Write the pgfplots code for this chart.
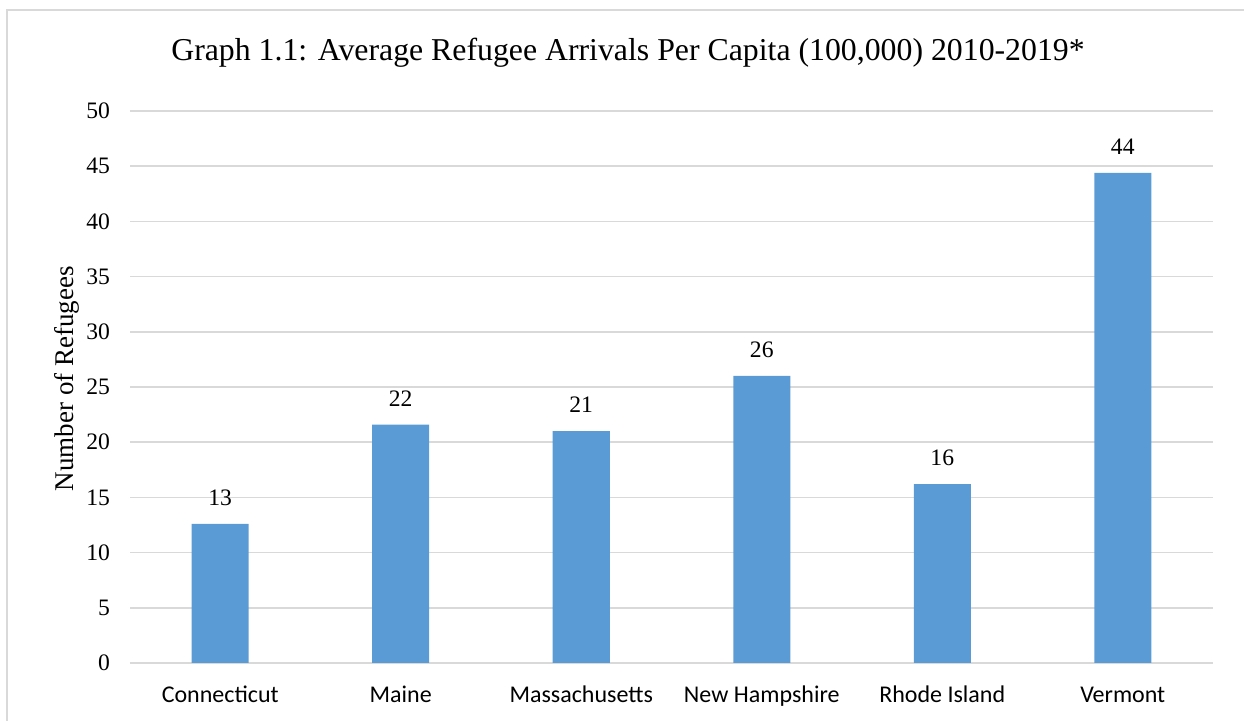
\documentclass[border=0pt]{standalone}
\usepackage{pgfplots}
\pgfplotsset{compat=1.18}
\usepackage{fontspec}
\setmainfont{Liberation Serif}
\newfontfamily\carlito{Carlito}
\definecolor{barblue}{HTML}{5B9BD5}
\definecolor{gridgray}{HTML}{D9D9D9}
\begin{document}
\begin{tikzpicture}
\useasboundingbox (-65pt,-29pt) rectangle (557pt,331.5pt);
\draw[gridgray, line width=0.8pt] (-61.5pt,-29pt) -- (-61.5pt,326.5pt) -- (557pt,326.5pt);
\begin{axis}[
  at={(0pt,0pt)}, anchor=south west,
  scale only axis,
  width=541.5pt, height=276pt,
  xmin=-0.5, xmax=5.5,
  ymin=0, ymax=50,
  ytick={0,5,...,50},
  xtick={0,1,2,3,4,5},
  xticklabels={Connecticut,Maine,Massachusetts,New Hampshire,Rhode Island,Vermont},
  x tick label style={font=\carlito\fontsize{12}{14}\selectfont, yshift=-9pt, text depth=0.25em, text height=0.7em},
  y tick label style={font=\fontsize{11.8}{13}\selectfont, xshift=-6.5pt},
  /pgf/number format/assume math mode=true,
  axis line style={draw=none},
  major tick length=0pt,
  ymajorgrids,
  grid style={gridgray, line width=0.8pt},
  ylabel={Number of Refugees},
  ylabel style={font=\fontsize{13.5}{15}\selectfont, at={(axis description cs:-0.058,0.515)}, anchor=center},
  nodes near coords,
  nodes near coords style={font=\fontsize{11.8}{13}\selectfont, /pgf/number format/.cd, fixed, precision=0, /tikz/.cd, anchor=south, inner sep=0pt, yshift=9pt},
  clip=false,
]
\addplot[ybar, bar width=28.5pt, fill=barblue, draw=none] coordinates {
  (0,12.6) (1,21.6) (2,21.0) (3,26.0) (4,16.2) (5,44.4)
};
\end{axis}
\node[font=\fontsize{15.9}{19}\selectfont] at (249pt,305pt) {Graph 1.1: Average Refugee Arrivals Per Capita (100,000) 2010-2019*};
\end{tikzpicture}
\end{document}
